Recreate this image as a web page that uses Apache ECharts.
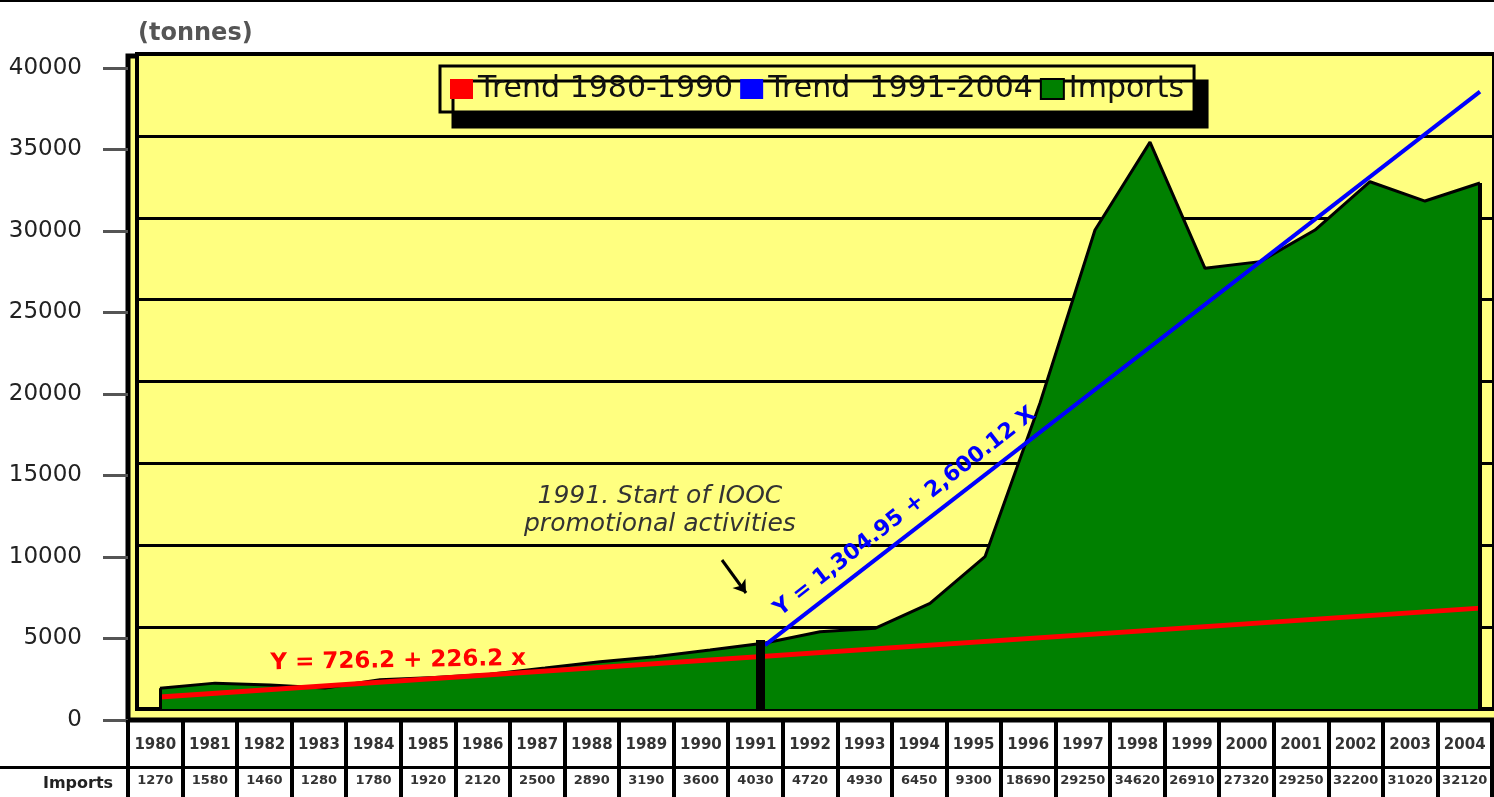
<!DOCTYPE html>
<html>
<head>
<meta charset="utf-8">
<script src="https://cdn.jsdelivr.net/npm/echarts@6/dist/echarts.min.js"></script>
<style>html,body{margin:0;padding:0;background:#fff;}#c{width:1494px;height:797px;}</style>
</head>
<body>
<div id="c"></div>
<script>
const years = [1980,1981,1982,1983,1984,1985,1986,1987,1988,1989,1990,1991,1992,1993,1994,1995,1996,1997,1998,1999,2000,2001,2002,2003,2004];
const imports = [1270,1580,1460,1280,1780,1920,2120,2500,2890,3190,3600,4030,4720,4930,6450,9300,18690,29250,34620,26910,27320,29250,32200,31020,32120];
const trend1Years = [1980, 2004];
const trend1Values = [730, 6160];
const trend2Years = [1991, 2004];
const trend2Values = [3900, 37700];
const yTickInterval = 5000;
const eq1 = 'Y = 726.2 + 226.2 x';
const eq2 = 'Y = 1,304.95 + 2,600.12 X';
const note = '1991. Start of IOOC\npromotional activities';

const FF = 'DejaVu Sans';
const chart = echarts.init(document.getElementById('c'));
const first = 0, last = years.length - 1;
const option = {
  animation: false,
  graphic: [
    {type:'rect', z:-10, shape:{x:128,y:56,width:1380,height:664}, style:{fill:'#FFFF80', stroke:'#000', lineWidth:5}},
    {type:'rect', z:10, shape:{x:0,y:0,width:1494,height:2}, style:{fill:'#000'}},
    {type:'rect', z:10, shape:{x:0,y:766,width:1494,height:3}, style:{fill:'#000'}},
    {type:'text', z:10, x:78, y:784, style:{text:'Imports', font:'bold 16px "DejaVu Sans"', fill:'#222', align:'center', verticalAlign:'middle'}}
  ],
  legend: {
    left: 440, top: 66, orient: 'horizontal',
    padding: [8, 10], itemGap: 7, itemWidth: 23, itemHeight: 20,
    selectedMode: false,
    backgroundColor: '#FFFF80', borderColor: '#000', borderWidth: 3,
    shadowColor: '#000', shadowOffsetX: 13, shadowOffsetY: 15, shadowBlur: 0,
    textStyle: {fontFamily: FF, fontSize: 30, color: '#111'},
    data: [
      {name:'Trend 1980-1990', icon:'rect', itemStyle:{color:'#FF0000', borderWidth:0}},
      {name:'Trend  1991-2004', icon:'rect', itemStyle:{color:'#0000FF', borderWidth:0}},
      {name:'Imports', icon:'rect', itemStyle:{color:'#008000', borderColor:'#000', borderWidth:2}}
    ]
  },
  grid: [
    {left:137, right:0, top:54, bottom:88, show:true, backgroundColor:'#FFFF80', borderColor:'#000', borderWidth:4},
    {left:128, right:2, top:68, bottom:77, show:false}
  ],
  xAxis: [
    {type:'value', gridIndex:0, min:1979.582, max:2004.2545, show:false},
    {type:'category', gridIndex:1, data: years.map(String), boundaryGap:true,
     axisLine:{show:false},
     axisTick:{show:true, interval:0, length:77, lineStyle:{color:'#000', width:4}},
     axisLabel:{interval:0, margin:14,
       formatter:(v, i) => '{y|' + v + '}\n{v|' + imports[i] + '}',
       rich:{
         y:{fontFamily:FF, fontWeight:'bold', fontSize:15, color:'#333', lineHeight:22},
         v:{fontFamily:FF, fontWeight:'bold', fontSize:13, color:'#333', lineHeight:50}
       }}
    }
  ],
  yAxis: [
    {type:'value', gridIndex:0, min:0, max:40000, interval:yTickInterval,
     axisLabel:{show:false}, axisTick:{show:false}, axisLine:{show:false},
     splitLine:{show:true, lineStyle:{color:'#000', width:3}}},
    {type:'value', gridIndex:1, min:0, max:40000, interval:yTickInterval,
     name:'(tonnes)', nameLocation:'end', nameGap:22,
     nameTextStyle:{fontFamily:FF, fontSize:24, fontWeight:'bold', color:'#555', align:'left', padding:[0,0,0,10]},
     axisLabel:{fontFamily:FF, fontSize:23, color:'#222', margin:46, formatter:(v) => String(v)},
     axisTick:{show:true, length:25, lineStyle:{color:'#555', width:3}},
     axisLine:{show:false}, splitLine:{show:false}}
  ],
  series: [
    {
      name:'Imports', type:'line', xAxisIndex:0, yAxisIndex:0, z:2,
      data: years.map((y,i) => [y, imports[i]]),
      symbol:'none', lineStyle:{color:'#000', width:3},
      areaStyle:{color:'#008000', opacity:1},
      itemStyle:{color:'#008000'},
      markLine:{
        silent:true, animation:false, label:{show:false},
        data:[
          [{coord:[years[first], 0], symbol:'none', lineStyle:{color:'#000', width:3, type:'solid'}}, {coord:[years[first], imports[first]], symbol:'none'}],
          [{coord:[years[last], 0], symbol:'none', lineStyle:{color:'#000', width:4, type:'solid'}}, {coord:[years[last], imports[last]], symbol:'none'}],
          [{coord:[1990.92, 0], symbol:'none', lineStyle:{color:'#000', width:9, type:'solid'}}, {coord:[1990.92, 4214], symbol:'none'}],
          [{coord:[1990.218, 9099], symbol:'none', lineStyle:{color:'#000', width:3, type:'solid'}}, {coord:[1990.655, 7084], symbol:'arrow', symbolSize:12}]
        ]
      },
      markPoint:{
        silent:true, animation:false,
        data:[{coord:[1989.09, 12092], symbol:'circle', symbolSize:1, itemStyle:{color:'rgba(0,0,0,0)'},
          label:{show:true, position:'inside', formatter:note, fontFamily:FF, fontStyle:'italic', fontSize:25, color:'#333', lineHeight:28, align:'center'}}]
      }
    },
    {
      name:'Trend 1980-1990', type:'line', xAxisIndex:0, yAxisIndex:0, z:3,
      data: trend1Years.map((y,i) => [y, trend1Values[i]]),
      symbol:'none', lineStyle:{color:'#FF0000', width:5}, itemStyle:{color:'#FF0000'},
      markPoint:{
        silent:true, animation:false,
        data:[{coord:[1984.33, 2931], symbol:'circle', symbolSize:1, itemStyle:{color:'rgba(0,0,0,0)'},
          label:{show:true, position:'inside', formatter:eq1, fontFamily:FF, fontWeight:'bold', fontSize:23, color:'#FF0000', rotate:1}}]
      }
    },
    {
      name:'Trend  1991-2004', type:'line', xAxisIndex:0, yAxisIndex:0, z:4,
      data: trend2Years.map((y,i) => [y, trend2Values[i]]),
      symbol:'none', lineStyle:{color:'#0000FF', width:4}, itemStyle:{color:'#0000FF'},
      markPoint:{
        silent:true, animation:false,
        data:[{coord:[1993.545, 12030], symbol:'circle', symbolSize:1, itemStyle:{color:'rgba(0,0,0,0)'},
          label:{show:true, position:'inside', formatter:eq2, fontFamily:FF, fontWeight:'bold', fontSize:22, color:'#0000FF', rotate:38}}]
      }
    }
  ]
};
chart.setOption(option);
</script>
</body>
</html>
